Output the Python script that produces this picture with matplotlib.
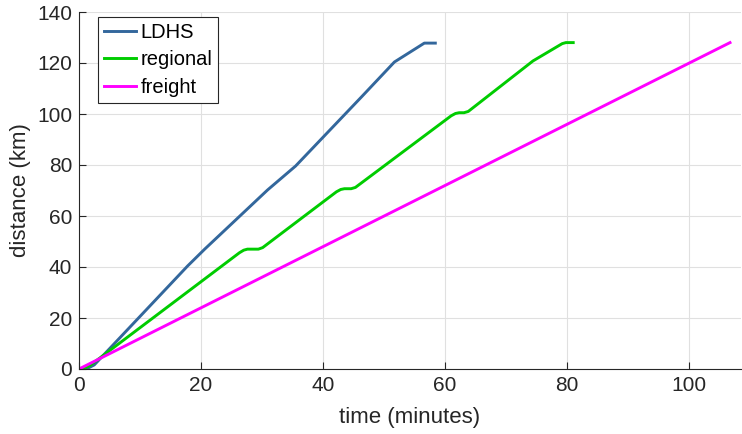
import numpy as np
import matplotlib.pyplot as plt

plt.rcParams['font.family'] = ['Liberation Sans', 'DejaVu Sans']

# LDHS trajectory
ldhs_t = [1.2, 2.5, 17.8, 20.6, 30.9, 35.5, 46.3, 51.7, 56.6, 58.4]
ldhs_d = [0.0, 1.6, 40.4, 47.0, 70.2, 79.6, 106.7, 120.4, 127.8, 127.8]

# regional trajectory
reg_t = [0.0, 0.8, 1.8, 26.3, 27.0, 27.6, 29.4, 30.1, 42.2, 42.9, 43.5, 44.6, 45.3,
         61.0, 61.7, 62.3, 63.1, 63.8, 74.4, 79.2, 79.8, 81.0]
reg_d = [0.0, 0.2, 1.4, 45.6, 46.6, 47.0, 47.0, 47.6, 69.5, 70.4, 70.7, 70.7, 71.2,
         99.3, 100.2, 100.5, 100.5, 101.0, 120.8, 127.6, 128.0, 128.0]

# freight trajectory
fr_t = [0.0, 106.7]
fr_d = [0.0, 128.0]

fig = plt.figure(figsize=(7.42, 4.34), dpi=100)
ax = fig.add_axes([79/742, 1-369/434, (741-79)/742, (369-12)/434])

ax.plot(ldhs_t, ldhs_d, color='#33679c', lw=2.1, label='LDHS')
ax.plot(reg_t, reg_d, color='#00cc00', lw=2.1, label='regional')
ax.plot(fr_t, fr_d, color='#ff00ff', lw=2.1, label='freight')

ax.set_xlim(0, 108.5)
ax.set_ylim(0, 140)
ax.set_xticks([0, 20, 40, 60, 80, 100])
ax.set_yticks(np.arange(0, 141, 20))
ax.grid(True, color='#e0e0e0', lw=0.8)
ax.set_axisbelow(True)
ax.spines['top'].set_visible(False)
ax.spines['right'].set_visible(False)
for s in ['left', 'bottom']:
    ax.spines[s].set_color('#262626')
ax.tick_params(direction='in', length=5, labelsize=15, colors='#262626', pad=5)
ax.set_xlabel('time (minutes)', fontsize=16, color='#262626', labelpad=9)
ax.set_ylabel('distance (km)', fontsize=16, color='#262626', labelpad=4)

leg = ax.legend(loc='upper left', bbox_to_anchor=(19/662, 1-5/357), fontsize=14.5,
                fancybox=False, framealpha=1, edgecolor='#262626',
                handlelength=1.6, handletextpad=0.2, borderpad=0.3, labelspacing=0.42,
                borderaxespad=0)
leg.get_frame().set_linewidth(0.8)

fig.savefig('out.png', dpi=100)
